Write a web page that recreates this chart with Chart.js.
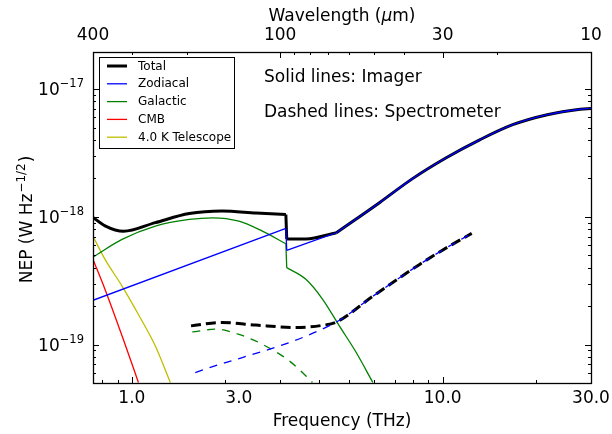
<!DOCTYPE html>
<html>
<head>
<meta charset="utf-8">
<script src="https://cdn.jsdelivr.net/npm/chart.js@4.4.0/dist/chart.umd.min.js"></script>
<style>
  html, body { margin: 0; padding: 0; background: #fff; }
  #wrap { width: 612px; height: 434px; }
</style>
</head>
<body>
<div id="wrap"><canvas id="nep" width="612" height="434"></canvas></div>
<script>
// Frequencies in THz, NEP in W Hz^-1/2
// Imager curves have a step near 3.14 THz, so they are kept in pieces.

// Imager (solid lines)
const totalLowFreq  = [0.75, 0.82, 0.94, 1.19, 1.53, 1.95, 2.51, 3.13];
const totalLowNep   = [9.9e-19, 8.5e-19, 7.7e-19, 9.0e-19, 1.06e-18, 1.11e-18, 1.07e-18, 1.04e-18];
const totalMidFreq  = [3.15, 3.63, 4.55];
const totalMidNep   = [6.7e-19, 6.7e-19, 7.5e-19];
const totalHighFreq = [4.55, 6.26, 8.0, 10.3, 13.2, 16.8, 21.7, 27.7, 30];
const totalHighNep  = [7.5e-19, 1.29e-18, 1.99e-18, 2.91e-18, 4.02e-18, 5.26e-18, 6.30e-18, 6.95e-18, 7.05e-18];

const zodiLowFreq  = [0.75, 3.13];
const zodiLowNep   = [2.22e-19, 8.11e-19];
const zodiMidFreq  = [3.15, 4.55];
const zodiMidNep   = [5.45e-19, 7.5e-19];
const zodiHighFreq = [4.55, 6.26, 8.0, 10.3, 13.2, 16.8, 21.7, 27.7, 30];
const zodiHighNep  = [7.5e-19, 1.29e-18, 1.99e-18, 2.91e-18, 4.02e-18, 5.26e-18, 6.30e-18, 6.95e-18, 7.05e-18];

const galLowFreq  = [0.75, 0.93, 1.19, 1.53, 1.82, 2.21, 2.63, 3.13];
const galLowNep   = [4.84e-19, 6.65e-19, 8.45e-19, 9.53e-19, 9.82e-19, 9.24e-19, 7.72e-19, 6.15e-19];
const galHighFreq = [3.15, 3.63, 4.11, 4.65, 5.27, 5.96];
const galHighNep  = [4.0e-19, 3.24e-19, 2.26e-19, 1.40e-19, 8.66e-20, 5.05e-20];

const cmbFreq = [0.75, 0.82, 0.93, 1.05];
const cmbNep  = [4.64e-19, 2.7e-19, 1.17e-19, 5.05e-20];

const telFreq = [0.75, 0.82, 0.93, 1.05, 1.19, 1.33];
const telNep  = [7.05e-19, 4.64e-19, 2.87e-19, 1.72e-19, 9.75e-20, 5.05e-20];

// Spectrometer (dashed lines)
const specTotFreq = [1.55, 1.95, 2.51, 3.37, 4.11, 4.55, 5.95, 8.43, 10.5, 12.4];
const specTotNep  = [1.40e-19, 1.49e-19, 1.42e-19, 1.36e-19, 1.415e-19, 1.50e-19, 2.38e-19, 4.24e-19, 5.89e-19, 7.41e-19];

const specZodiFreq = [1.6, 4.55, 5.95, 8.43, 10.5, 12.4];
const specZodiNep  = [6.04e-20, 1.50e-19, 2.38e-19, 4.24e-19, 5.89e-19, 7.41e-19];

const specGalFreq = [1.565, 1.86, 2.21, 2.63, 3.21, 3.72, 3.81];
const specGalNep  = [1.255e-19, 1.32e-19, 1.20e-19, 1.005e-19, 7.45e-20, 5.36e-20, 5.05e-20];

// axis ticks
const freqLabelPos = [1, 2.21, 10, 30];
const freqLabels = ['1.0', '3.0', '10.0', '30.0'];
const freqMajor = [1, 10, 30];
const freqMinor = [0.8, 0.9, 2, 3, 4, 5, 6, 7, 8, 9, 20];

const waveLabels = [400, 100, 30, 10];       // microns
const waveMinor = [300, 200, 90, 80, 70, 60, 50, 40, 20];

const nepMajor = [1e-19, 1e-18, 1e-17];
const nepMinor = [6e-20, 7e-20, 8e-20, 9e-20,
  2e-19, 3e-19, 4e-19, 5e-19, 6e-19, 7e-19, 8e-19, 9e-19,
  2e-18, 3e-18, 4e-18, 5e-18, 6e-18, 7e-18, 8e-18, 9e-18];

const FONT = 'DejaVu Sans';
const waveToFreq = w => 300 / w;

// join curve pieces; a null point breaks the line so each piece is smoothed on its own
function pieces(parts) {
  const out = [];
  parts.forEach((p, k) => {
    if (k > 0) out.push({ x: p[0][0], y: null });
    p[0].forEach((f, i) => out.push({ x: f, y: p[1][i] }));
  });
  return out;
}
const stepOf = (fa, na, fb, nb) => [[fa[fa.length - 1], fb[0]], [na[na.length - 1], nb[0]]];

function line(label, data, color, width, order, dash) {
  return {
    label: label,
    data: data,
    borderColor: color,
    borderWidth: width,
    borderDash: dash || [],
    pointRadius: 0,
    fill: false,
    order: order,
    spanGaps: false,
    cubicInterpolationMode: 'monotone'
  };
}

const datasets = [
  line('Total', pieces([
    [totalLowFreq, totalLowNep],
    stepOf(totalLowFreq, totalLowNep, totalMidFreq, totalMidNep),
    [totalMidFreq, totalMidNep],
    [totalHighFreq, totalHighNep]
  ]), '#000000', 3, 9),
  line('Zodiacal', pieces([
    [zodiLowFreq, zodiLowNep],
    stepOf(zodiLowFreq, zodiLowNep, zodiMidFreq, zodiMidNep),
    [zodiMidFreq, zodiMidNep],
    [zodiHighFreq, zodiHighNep]
  ]), '#0000ff', 1.3, 5),
  line('Galactic', pieces([
    [galLowFreq, galLowNep],
    stepOf(galLowFreq, galLowNep, galHighFreq, galHighNep),
    [galHighFreq, galHighNep]
  ]), '#008000', 1.3, 6),
  line('CMB', pieces([[cmbFreq, cmbNep]]), '#ff0000', 1.3, 7),
  line('4.0 K Telescope', pieces([[telFreq, telNep]]), '#bfbf00', 1.3, 8),
  line('Total (spec)', pieces([[specTotFreq, specTotNep]]), '#000000', 3, 9, [10, 5]),
  line('Zodiacal (spec)', pieces([[specZodiFreq, specZodiNep]]), '#0000ff', 1.3, 5, [8, 7]),
  line('Galactic (spec)', pieces([[specGalFreq, specGalNep]]), '#008000', 1.3, 6, [8, 7])
];

// frame, inward ticks, y labels, titles, legend, notes
const decor = {
  id: 'decor',
  afterDraw(chart) {
    const ctx = chart.ctx;
    const a = chart.chartArea;
    const xs = chart.scales.x, ys = chart.scales.y;
    const snap = v => Math.round(v) + 0.5;
    ctx.save();
    ctx.strokeStyle = '#000';
    ctx.lineWidth = 1;

    function seg(x1, y1, x2, y2) {
      ctx.beginPath(); ctx.moveTo(x1, y1); ctx.lineTo(x2, y2); ctx.stroke();
    }
    // bottom (frequency) ticks
    freqMajor.forEach(f => { const p = snap(xs.getPixelForValue(f)); seg(p, a.bottom, p, a.bottom - 6); });
    freqMinor.forEach(f => { const p = snap(xs.getPixelForValue(f)); seg(p, a.bottom, p, a.bottom - 3); });
    // top (wavelength) ticks
    waveLabels.forEach(w => { const p = snap(xs.getPixelForValue(waveToFreq(w))); seg(p, a.top, p, a.top + 6); });
    waveMinor.forEach(w => { const p = snap(xs.getPixelForValue(waveToFreq(w))); seg(p, a.top, p, a.top + 3); });
    // left / right ticks
    nepMajor.forEach(v => {
      const p = snap(ys.getPixelForValue(v));
      seg(a.left, p, a.left + 6, p); seg(a.right, p, a.right - 6, p);
    });
    nepMinor.forEach(v => {
      const p = snap(ys.getPixelForValue(v));
      seg(a.left, p, a.left + 3, p); seg(a.right, p, a.right - 3, p);
    });
    // frame
    ctx.lineWidth = 1.3;
    ctx.strokeRect(Math.round(a.left) + 0.5, Math.round(a.top) + 0.5,
      Math.round(a.right - a.left), Math.round(a.bottom - a.top));

    ctx.fillStyle = '#000';
    ctx.textBaseline = 'alphabetic';
    // y tick labels 10^n
    nepMajor.forEach(v => {
      const p = ys.getPixelForValue(v);
      const sup = '\u2212' + Math.abs(Math.round(Math.log10(v)));
      ctx.font = '11.5px "' + FONT + '"';
      const sw = ctx.measureText(sup).width;
      ctx.textAlign = 'left';
      ctx.fillText(sup, 84 - sw, p - 2);
      ctx.font = '17px "' + FONT + '"';
      ctx.textAlign = 'right';
      ctx.fillText('10', 84 - sw, p + 6);
    });

    // axis titles
    ctx.textAlign = 'center';
    ctx.font = '17px "' + FONT + '"';
    ctx.fillText('Frequency (THz)', (a.left + a.right) / 2, 425.5);

    // top title with italic mu
    const t1 = 'Wavelength (', t2 = '\u03bc', t3 = 'm)';
    ctx.font = '17px "' + FONT + '"';
    const w1 = ctx.measureText(t1).width, w3 = ctx.measureText(t3).width;
    ctx.font = 'italic 17px "' + FONT + '"';
    const w2 = ctx.measureText(t2).width;
    const tx = (a.left + a.right) / 2 - (w1 + w2 + w3) / 2;
    ctx.textAlign = 'left';
    ctx.font = '17px "' + FONT + '"';
    ctx.fillText(t1, tx, 21);
    ctx.font = 'italic 17px "' + FONT + '"';
    ctx.fillText(t2, tx + w1, 21);
    ctx.font = '17px "' + FONT + '"';
    ctx.fillText(t3, tx + w1 + w2, 21);

    // y title rotated
    ctx.save();
    ctx.translate(32, (a.top + a.bottom) / 2 + 3);
    ctx.rotate(-Math.PI / 2);
    const y1 = 'NEP (W Hz', y2 = '\u22121/2', y3 = ')';
    ctx.font = '17px "' + FONT + '"';
    const yw1 = ctx.measureText(y1).width, yw3 = ctx.measureText(y3).width;
    ctx.font = '12px "' + FONT + '"';
    const yw2 = ctx.measureText(y2).width;
    const ty = -(yw1 + yw2 + yw3) / 2;
    ctx.textAlign = 'left';
    ctx.font = '17px "' + FONT + '"';
    ctx.fillText(y1, ty, 0);
    ctx.font = '12px "' + FONT + '"';
    ctx.fillText(y2, ty + yw1 + 1, -7);
    ctx.font = '17px "' + FONT + '"';
    ctx.fillText(y3, ty + yw1 + yw2 + 2, 0);
    ctx.restore();

    // notes
    ctx.textAlign = 'left';
    ctx.font = '17px "' + FONT + '"';
    ctx.fillText('Solid lines: Imager', 264, 82);
    ctx.fillText('Dashed lines: Spectrometer', 264, 117);

    // legend
    const lx = 99.5, ly = 57.5, lw = 135, lh = 91;
    ctx.fillStyle = '#fff';
    ctx.fillRect(lx, ly, lw, lh);
    ctx.lineWidth = 1;
    ctx.strokeStyle = '#000';
    ctx.strokeRect(lx, ly, lw, lh);
    ctx.font = '12px "' + FONT + '"';
    ctx.textBaseline = 'middle';
    for (let i = 0; i < 5; i++) {
      const ds = chart.data.datasets[i];
      const ry = 66 + i * 17.8;
      ctx.strokeStyle = ds.borderColor;
      ctx.lineWidth = ds.borderWidth;
      seg(107, ry, 127, ry);
      ctx.fillStyle = '#000';
      ctx.fillText(ds.label, 138, ry + 0.5);
    }
    ctx.restore();
  }
};

new Chart(document.getElementById('nep'), {
  type: 'line',
  data: { datasets: datasets },
  options: {
    responsive: false,
    animation: false,
    layout: { padding: { left: 0, right: 21, top: 0, bottom: 0 } },
    plugins: { legend: { display: false }, tooltip: { enabled: false } },
    scales: {
      x: {
        type: 'logarithmic', position: 'bottom', min: 0.75, max: 30,
        grid: { display: false, drawTicks: false }, border: { display: false },
        ticks: {
          autoSkip: false, maxRotation: 0, padding: 5, color: '#000',
          font: { family: FONT, size: 17 },
          callback: (v, i) => freqLabels[i]
        },
        afterBuildTicks: s => { s.ticks = freqLabelPos.map(v => ({ value: v })); },
        afterFit: s => { s.height = 51; s.paddingLeft = 0; s.paddingRight = 0; }
      },
      x2: {
        type: 'logarithmic', position: 'top', min: 0.75, max: 30,
        grid: { display: false, drawTicks: false }, border: { display: false },
        ticks: {
          autoSkip: false, maxRotation: 0, padding: 6, color: '#000',
          font: { family: FONT, size: 17 },
          callback: (v, i) => String(waveLabels[i])
        },
        afterBuildTicks: s => { s.ticks = waveLabels.map(w => ({ value: waveToFreq(w) })); },
        afterFit: s => { s.height = 52; s.paddingLeft = 0; s.paddingRight = 0; }
      },
      y: {
        type: 'logarithmic', min: 5e-20, max: 1.95e-17,
        grid: { display: false, drawTicks: false }, border: { display: false },
        ticks: { display: false },
        afterFit: s => { s.width = 93; s.paddingTop = 0; s.paddingBottom = 0; }
      }
    }
  },
  plugins: [decor]
});
</script>
</body>
</html>
